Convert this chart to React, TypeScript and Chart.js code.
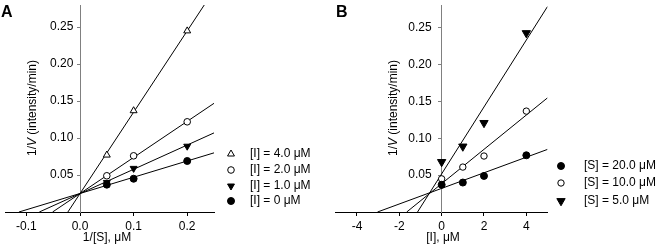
import React, { useEffect, useRef } from "react";
import { Chart, registerables } from "chart.js";
import { drawPoint } from "chart.js/helpers";

Chart.register(...registerables);

const FONT = "'Liberation Sans', Arial, Helvetica, sans-serif";

// ---------------- Panel A : 1/V vs 1/[S] ----------------
const aInvS = [0.05, 0.1, 0.2];
const aI4 = [0.077, 0.137, 0.245];
const aI2 = [0.049, 0.076, 0.122];
const aI1 = [0.04, 0.059, 0.089];
const aI0 = [0.037, 0.045, 0.069];
// fitted lines: [start, end] pairs
const aFitI4X = [-0.0227, 0.25];
const aFitI4Y = [0, 0.3];
const aFitI2X = [-0.0512, 0.25];
const aFitI2Y = [0, 0.147];
const aFitI1X = [-0.076, 0.25];
const aFitI1Y = [0, 0.107];
const aFitI0X = [-0.114, 0.25];
const aFitI0Y = [0, 0.08];
const aXTicks = [-0.1, 0, 0.1, 0.2];
const aXTickLabels = ["-0.1", "0.0", "0.1", "0.2"];
const yTicks = [0.05, 0.1, 0.15, 0.2, 0.25];
const yTickLabels = ["0.05", "0.10", "0.15", "0.20", "0.25"];
const aLabels = ["[I] = 4.0 \u03bcM", "[I] = 2.0 \u03bcM", "[I] = 1.0 \u03bcM", "[I] = 0 \u03bcM"];

// ---------------- Panel B : 1/V vs [I] ----------------
const bI = [0, 1, 2, 4];
const bS20 = [0.037, 0.04, 0.049, 0.077];
const bS10 = [0.045, 0.061, 0.076, 0.137];
const bS5 = [0.068, 0.089, 0.121, 0.243];
const bFitS20X = [-3.03, 5];
const bFitS20Y = [0, 0.085];
const bFitS10X = [-1.65, 5];
const bFitS10Y = [0, 0.155];
const bFitS5X = [-1.14, 5];
const bFitS5Y = [0, 0.279];
const bXTicks = [-4, -2, 0, 2, 4];
const bXTickLabels = ["-4", "-2", "0", "2", "4"];
const bLabels = ["[S] = 20.0 \u03bcM", "[S] = 10.0 \u03bcM", "[S] = 5.0 \u03bcM"];

const toPts = (xs: number[], ys: number[]) => xs.map((x, i) => ({ x, y: ys[i] }));

const noPad = (s: any) => {
  s.paddingLeft = 0;
  s.paddingRight = 0;
  s.paddingTop = 0;
  s.paddingBottom = 0;
};

function pointSet(label: string, xs: number[], ys: number[], style: string, rot: number, r: number, fill: string) {
  return {
    label,
    data: toPts(xs, ys),
    showLine: false,
    pointStyle: style,
    rotation: rot,
    pointRotation: rot,
    pointRadius: r,
    pointHoverRadius: r,
    pointBackgroundColor: fill,
    pointBorderColor: "#000",
    pointBorderWidth: 1,
    backgroundColor: fill,
    borderColor: "#000",
    order: 0,
  };
}

function fitSet(xs: number[], ys: number[]) {
  return {
    label: "",
    legend: false,
    data: toPts(xs, ys),
    showLine: true,
    pointRadius: 0,
    pointHoverRadius: 0,
    borderColor: "#000",
    borderWidth: 1,
    backgroundColor: "#000",
    fill: false,
    order: 1,
  };
}

const deco = {
  id: "deco",
  afterDraw(chart: any, _args: any, opts: any) {
    const ctx = chart.ctx as CanvasRenderingContext2D;
    ctx.save();
    ctx.fillStyle = "#000";
    // panel letter
    ctx.font = `bold 16px ${FONT}`;
    ctx.textAlign = "left";
    ctx.textBaseline = "alphabetic";
    ctx.fillText(opts.letter, opts.letterX, opts.letterY);
    // x title
    ctx.font = `12px ${FONT}`;
    ctx.textAlign = "center";
    ctx.textBaseline = "middle";
    ctx.fillText(opts.xTitle, opts.xTitleX, opts.xTitleY);
    // y title (rotated, italic V)
    const parts = [
      { t: "1/", it: false },
      { t: "V", it: true },
      { t: " (intensity/min)", it: false },
    ];
    const fontOf = (it: boolean) => `${it ? "italic " : ""}12px ${FONT}`;
    let total = 0;
    const widths = parts.map((p) => {
      ctx.font = fontOf(p.it);
      const w = ctx.measureText(p.t).width;
      total += w;
      return w;
    });
    ctx.save();
    ctx.translate(opts.yTitleX, opts.yTitleY);
    ctx.rotate(-Math.PI / 2);
    ctx.textAlign = "left";
    ctx.textBaseline = "middle";
    let cx = -total / 2;
    parts.forEach((p, i) => {
      ctx.font = fontOf(p.it);
      ctx.fillText(p.t, cx, 0);
      cx += widths[i];
    });
    ctx.restore();
    // legend
    const items = chart.data.datasets.filter((d: any) => d.legend !== false);
    items.forEach((d: any, i: number) => {
      const y = opts.legendY[i];
      ctx.fillStyle = d.pointBackgroundColor;
      ctx.strokeStyle = d.pointBorderColor;
      ctx.lineWidth = d.pointBorderWidth;
      drawPoint(
        ctx,
        { pointStyle: d.pointStyle, rotation: d.pointRotation, radius: d.pointRadius, borderWidth: d.pointBorderWidth } as any,
        opts.legendSymX,
        y
      );
      ctx.fillStyle = "#000";
      ctx.font = `12px ${FONT}`;
      ctx.textAlign = "left";
      ctx.textBaseline = "middle";
      ctx.fillText(d.label, opts.legendTextX, y);
    });
    ctx.restore();
  },
};

function makeScales(xMin: number, xMax: number, xTicks: number[], xLabels: string[], yGap: string) {
  return {
    x: {
      type: "linear",
      min: xMin,
      max: xMax,
      position: { y: 0 },
      afterBuildTicks: (s: any) => {
        s.ticks = xTicks.map((v) => ({ value: v }));
      },
      afterFit: noPad,
      grid: { drawOnChartArea: false, drawTicks: true, tickLength: 3, color: "#000", lineWidth: 1 },
      border: { display: true, color: "#000", width: 1 },
      ticks: {
        font: { family: FONT, size: 12 },
        color: "#000",
        padding: 4,
        maxRotation: 0,
        autoSkip: false,
        callback: (_v: any, i: number) => xLabels[i],
      },
    },
    y: {
      type: "linear",
      min: 0,
      max: 0.28,
      position: { x: 0 },
      afterBuildTicks: (s: any) => {
        s.ticks = yTicks.map((v) => ({ value: v }));
      },
      afterFit: noPad,
      grid: { drawOnChartArea: false, drawTicks: true, tickLength: 3, color: "#808080", lineWidth: 1 },
      border: { display: true, color: "#808080", width: 1 },
      ticks: {
        font: { family: FONT, size: 12 },
        color: "#000",
        padding: 4,
        autoSkip: false,
        callback: (_v: any, i: number) => yTickLabels[i] + yGap,
      },
    },
  };
}

function configA(): any {
  return {
    type: "scatter",
    data: {
      datasets: [
        pointSet(aLabels[0], aInvS, aI4, "triangle", 0, 4, "#fff"),
        pointSet(aLabels[1], aInvS, aI2, "circle", 0, 3.3, "#fff"),
        pointSet(aLabels[2], aInvS, aI1, "triangle", 180, 4, "#000"),
        pointSet(aLabels[3], aInvS, aI0, "circle", 0, 3.5, "#000"),
        fitSet(aFitI4X, aFitI4Y),
        fitSet(aFitI2X, aFitI2Y),
        fitSet(aFitI1X, aFitI1Y),
        fitSet(aFitI0X, aFitI0Y),
      ],
    },
    options: {
      animation: false,
      responsive: false,
      maintainAspectRatio: false,
      events: [],
      layout: { padding: { left: 2, right: 116, top: 4, bottom: 39 } },
      scales: makeScales(-0.14, 0.25, aXTicks, aXTickLabels, "  "),
      plugins: {
        legend: { display: false },
        tooltip: { enabled: false },
        deco: {
          letter: "A",
          letterX: 1,
          letterY: 17,
          xTitle: "1/[S], \u03bcM",
          xTitleX: 107,
          xTitleY: 238,
          yTitleX: 33,
          yTitleY: 108,
          legendSymX: 231,
          legendTextX: 250,
          legendY: [154, 170, 186, 201],
        },
      },
    },
    plugins: [deco],
  };
}

function configB(): any {
  return {
    type: "scatter",
    data: {
      datasets: [
        pointSet(bLabels[0], bI, bS20, "circle", 0, 3.5, "#000"),
        pointSet(bLabels[1], bI, bS10, "circle", 0, 3.2, "#fff"),
        pointSet(bLabels[2], bI, bS5, "triangle", 180, 4.8, "#000"),
        fitSet(bFitS20X, bFitS20Y),
        fitSet(bFitS10X, bFitS10Y),
        fitSet(bFitS5X, bFitS5Y),
      ],
    },
    options: {
      animation: false,
      responsive: false,
      maintainAspectRatio: false,
      events: [],
      layout: { padding: { left: 5, right: 111.5, top: 0, bottom: 39 } },
      scales: makeScales(-5, 5, bXTicks, bXTickLabels, "   "),
      plugins: {
        legend: { display: false },
        tooltip: { enabled: false },
        deco: {
          letter: "B",
          letterX: 6,
          letterY: 17,
          xTitle: "[I], \u03bcM",
          xTitleX: 113,
          xTitleY: 238,
          yTitleX: 64,
          yTitleY: 108,
          legendSymX: 231,
          legendTextX: 254,
          legendY: [166, 183, 201],
        },
      },
    },
    plugins: [deco],
  };
}

function Panel({ make, left, width }: { make: () => any; left: number; width: number }) {
  const ref = useRef<HTMLCanvasElement>(null);
  useEffect(() => {
    const chart = new Chart(ref.current as HTMLCanvasElement, make());
    return () => chart.destroy();
  }, [make]);
  return (
    <canvas
      ref={ref}
      width={width}
      height={251}
      style={{ position: "absolute", left, top: 0, width, height: 251, display: "block" }}
    />
  );
}

export default function App() {
  return (
    <div
      style={{
        position: "absolute",
        left: 0,
        top: 0,
        width: 659,
        height: 251,
        background: "#fff",
        overflow: "hidden",
      }}
    >
      <Panel make={configA} left={0} width={330} />
      <Panel make={configB} left={330} width={329} />
    </div>
  );
}
